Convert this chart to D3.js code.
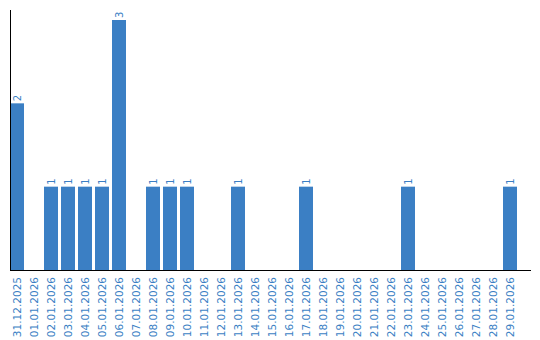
<!DOCTYPE html>
<html>
<head>
<meta charset="utf-8">
<script src="https://cdn.jsdelivr.net/npm/d3@7"></script>
<style>
    body { margin: 0; background: #fff; }
    svg text { font-family: "DejaVu Sans", Verdana, sans-serif; }
</style>
</head>
<body>
<svg id="chart" width="540" height="340"></svg>
<script>
var dates = ["31.12.2025", "01.01.2026", "02.01.2026", "03.01.2026", "04.01.2026",
    "05.01.2026", "06.01.2026", "07.01.2026", "08.01.2026", "09.01.2026",
    "10.01.2026", "11.01.2026", "12.01.2026", "13.01.2026", "14.01.2026",
    "15.01.2026", "16.01.2026", "17.01.2026", "18.01.2026", "19.01.2026",
    "20.01.2026", "21.01.2026", "22.01.2026", "23.01.2026", "24.01.2026",
    "25.01.2026", "26.01.2026", "27.01.2026", "28.01.2026", "29.01.2026"];
var counts = [2, 0, 1, 1, 1, 1, 3, 0, 1, 1, 1, 0, 0, 1, 0, 0, 0, 1, 0, 0, 0, 0, 0, 1, 0, 0, 0, 0, 0, 1];

var blue = "#3b7fc4";
var svg = d3.select("#chart");
var data = dates.map(function(d, i) { return { date: d, value: counts[i] }; });

var x = d3.scaleBand()
    .domain(dates)
    .range([10, 517])
    .paddingInner(3 / 17)
    .paddingOuter(0);

var y = d3.scaleLinear()
    .domain([0, 3])
    .range([270, 20]);

// bars
svg.selectAll(".bar")
    .data(data.filter(function(d) { return d.value > 0; }))
    .enter().append("rect")
    .attr("class", "bar")
    .attr("x", function(d) { return x(d.date); })
    .attr("y", function(d) { return y(d.value); })
    .attr("width", x.bandwidth())
    .attr("height", function(d) { return y(0) - y(d.value); })
    .attr("fill", blue);

// value labels, rotated
svg.selectAll(".val")
    .data(data.filter(function(d) { return d.value > 0; }))
    .enter().append("text")
    .attr("class", "val")
    .attr("transform", function(d) {
        return "translate(" + (x(d.date) + x.bandwidth() / 2 + 3.5) + "," + (y(d.value) - 2) + ") rotate(-90)";
    })
    .attr("font-size", "10px")
    .attr("fill", blue)
    .text(function(d) { return d.value; });

// axes lines
svg.append("line")
    .attr("x1", 10.5).attr("x2", 10.5)
    .attr("y1", 10).attr("y2", 270)
    .attr("stroke", "#000");

svg.append("line")
    .attr("x1", 10).attr("x2", 531)
    .attr("y1", 270.5).attr("y2", 270.5)
    .attr("stroke", "#000");

// category labels
svg.selectAll(".lbl")
    .data(dates)
    .enter().append("text")
    .attr("class", "lbl")
    .attr("transform", function(d) {
        return "translate(" + (x(d) + x.bandwidth() / 2 + 4) + ",277) rotate(-90)";
    })
    .attr("text-anchor", "end")
    .attr("font-size", "10.5px")
    .attr("fill", blue)
    .text(function(d) { return d; });
</script>
</body>
</html>
